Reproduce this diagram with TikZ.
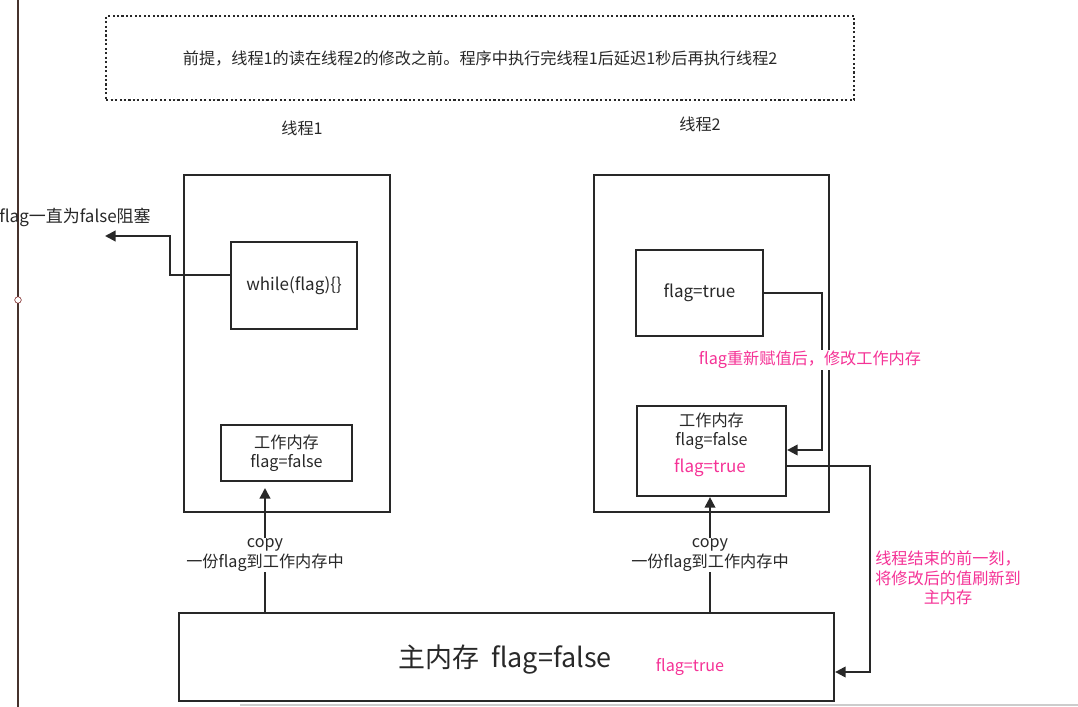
\documentclass[tikz,border=0pt]{standalone}
\usepackage{fontspec}
\setmainfont{Noto Sans CJK SC}
\usetikzlibrary{arrows.meta,calc}
\definecolor{pinktext}{RGB}{245,50,150}
\definecolor{linecolor}{RGB}{40,40,40}
\definecolor{edgecolor}{RGB}{70,50,45}
\tikzset{
  box/.style={draw=linecolor, line width=1.8pt, rectangle, anchor=north west},
  conn/.style={draw=linecolor, line width=1.8pt, -{Triangle[length=9pt,width=9pt]}},
  lbl/.style={font=\fontsize{13.8}{16.5}\selectfont, align=center, text=linecolor},
  plbl/.style={font=\fontsize{13.8}{16.5}\selectfont, align=center, text=pinktext}
}
\begin{document}
\begin{tikzpicture}[x=0.03cm,y=-0.03cm]
\useasboundingbox (0,0) rectangle (1078,707);
%% page edge %%
\draw[line width=2.2pt, draw=edgecolor] (18,0) -- (18,707);
\node[circle, draw=black!60!red, fill=white, inner sep=2pt] (dot) at (18,300) {};
\draw[black!20, line width=1pt] (240,705) -- (1078,705);

%% Premise %%
\node[box, dotted, line width=2pt, minimum width=748*0.03cm, minimum height=84*0.03cm] (Premise) at (105,15) {};
\node[lbl] (PremiseText) at (Premise.center) {前提，线程1的读在线程2的修改之前。程序中执行完线程1后延迟1秒后再执行线程2};

%% Thread 1 %%
\node[lbl] (T1Title) at (302,128) {线程1};
\node[box, minimum width=206*0.03cm, minimum height=337*0.03cm] (Thread1) at (183,174) {};
\node[box, minimum width=126*0.03cm, minimum height=87*0.03cm] (While) at (230,241) {};
\node[lbl, font=\fontsize{14.5}{17}\selectfont] at (While.center) {while(flag)\{\}};
\node[box, minimum width=131*0.03cm, minimum height=56*0.03cm] (Work1) at (220,424) {};
\node[lbl] at (Work1.center) {工作内存\\flag=false};

%% Thread 2 %%
\node[lbl] (T2Title) at (700,124) {线程2};
\node[box, minimum width=235*0.03cm, minimum height=337*0.03cm] (Thread2) at (593,174) {};
\node[box, minimum width=127*0.03cm, minimum height=86*0.03cm] (SetTrue) at (635,249) {};
\node[lbl, font=\fontsize{14.5}{17}\selectfont] at (SetTrue.center) {flag=true};
\node[box, minimum width=149*0.03cm, minimum height=90*0.03cm] (Work2) at (636,405) {};
\node[lbl] at ($(Work2.north)+(0,26)$) {工作内存\\flag=false};
\node[plbl, font=\fontsize{14.5}{17}\selectfont] at (710,468) {flag=true};

%% Main memory %%
\node[box, minimum width=655*0.03cm, minimum height=88*0.03cm] (Main) at (178,612) {};
\node[lbl, font=\fontsize{23}{27}\selectfont] at (505,660) {主内存\ \ flag=false};
\node[plbl] at (690,667) {flag=true};

%% Connections %%
\coordinate (Blocked) at (105,236);
\node[lbl, font=\fontsize{14.5}{17}\selectfont] (BlockedText) at (75,217) {flag一直为false阻塞};
\draw[conn] (While.west |- 0,275) -- (170,275) -- (170,236) -- (Blocked);

\draw[conn] (Main.north -| 265,0) -- (265,488);
\node[lbl, fill=white, inner sep=1pt] at (265,555) {copy\\一份flag到工作内存中};
\draw[conn] (Main.north -| 710,0) -- (Work2.south -| 710,0);
\node[lbl, fill=white, inner sep=1pt] at (710,555) {copy\\一份flag到工作内存中};

\draw[conn] (SetTrue.east) -- (SetTrue.east -| 822,0) -- (822,450) -- (Work2.east |- 0,450);
\node[plbl, fill=white, inner sep=1pt] at (810,360) {flag重新赋值后，修改工作内存};

\draw[conn] (Work2.east |- 0,466) -- (870,466) -- (870,672) -- (Main.east |- 0,672);
\node[plbl, fill=white, inner sep=1pt] at (948,578) {线程结束的前一刻，\\将修改后的值刷新到\\主内存};
\end{tikzpicture}
\end{document}
